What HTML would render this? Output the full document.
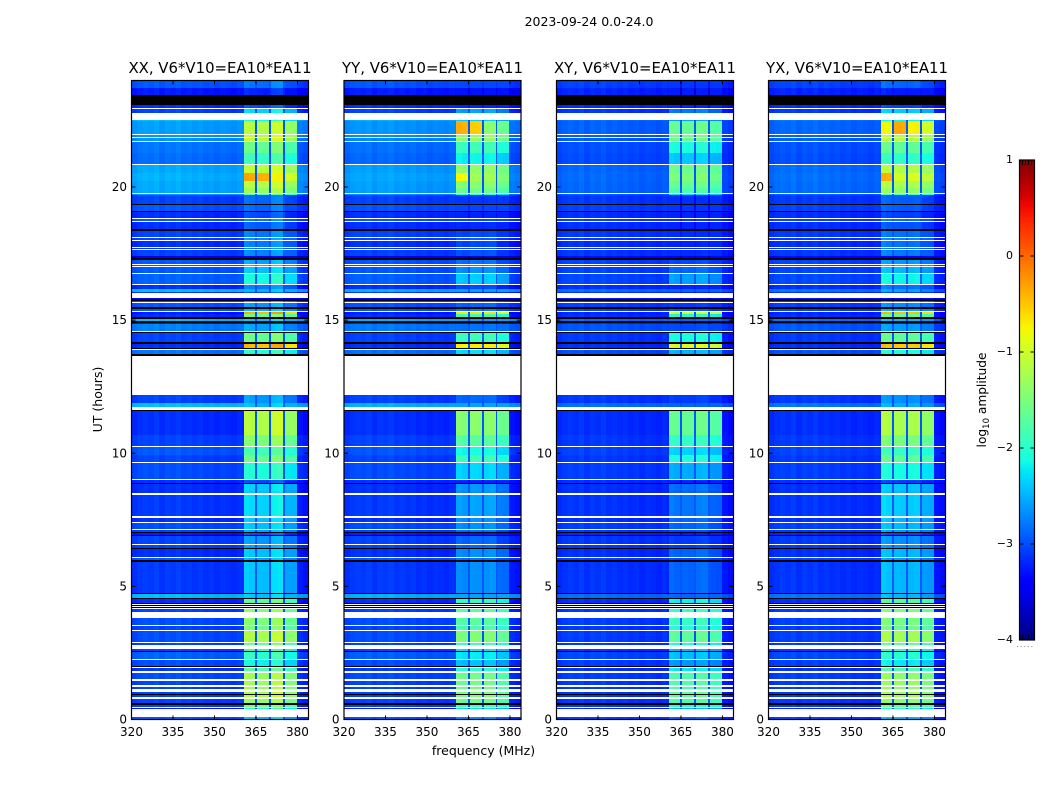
<!DOCTYPE html>
<html lang="en">
<head>
<meta charset="utf-8">
<title>2023-09-24 0.0-24.0</title>
<style>
html,body{margin:0;padding:0;background:#fff;}
svg{display:block;}
text{font-family:"DejaVu Sans","Liberation Sans",sans-serif;fill:#000;}
</style>
</head>
<body>
<svg id="fig" xmlns="http://www.w3.org/2000/svg" width="1050" height="800" viewBox="0 0 1050 800">
  <rect x="0" y="0" width="1050" height="800" fill="#fff"/>
  <text x="589" y="26" font-size="12.5" text-anchor="middle">2023-09-24 0.0-24.0</text>
  <text x="0" y="0" font-size="12.5" text-anchor="middle" transform="translate(102 399.5) rotate(-90)">UT (hours)</text>
  <text x="483.5" y="755" font-size="12.5" text-anchor="middle">frequency (MHz)</text>
  <text x="0" y="0" font-size="12.2" text-anchor="middle" transform="translate(986 400) rotate(-90)">log<tspan font-size="8.5" dy="3">10</tspan><tspan dy="-3"> amplitude</tspan></text>
  <defs><linearGradient id="jet-gradient" x1="0" y1="1" x2="0" y2="0"></linearGradient></defs>
  <g id="panels"></g>
  <g id="colorbar"></g>
</svg>
<script>
// ---- categories and tick labels ----
const panelTitles = ["XX, V6*V10=EA10*EA11", "YY, V6*V10=EA10*EA11", "XY, V6*V10=EA10*EA11", "YX, V6*V10=EA10*EA11"];
const xTickLabels = [320, 335, 350, 365, 380];
const yTickLabels = [0, 5, 10, 15, 20];
const colorbarTicks = [-4, -3, -2, -1, 0, 1];

// ---- frequency bins (MHz) ----
const freqEdges = [320,322,324,326,328,330,332,334,336,338,340,342,344,346,348,350,352,354,356,358,360,
                   360.5,362.5,364.7,365.5,367.5,369.8,370.5,372.5,374.8,375.5,377.5,379.8,382,384];
// 0 = background, 1-4 = signal block, -1 = gap between blocks
const binBlock = [0,0,0,0,0,0,0,0,0,0,0,0,0,0,0,0,0,0,0,0,
                  0,1,1,-1,2,2,-1,3,3,-1,4,4,0,0];
const binShape = [0,.05,.08,.05,.1,.02,.08,.05,.1,.03,.06,.02,.05,0,.03,-.02,.02,0,-.03,.02,
                  -.02,.05,0,0,.02,0,0,0,.03,0,-.08,-.1,-.1,-.15];

// ---- time bands: each runs from its UT down to the next UT ----
// null = no data (white), -9 = zero amplitude (black)
const bandTop = [
  24.00,23.72,23.46,23.09,22.97,22.94,22.79,22.52,22.49,22.00,
  21.96,21.89,21.85,21.74,21.70,21.28,20.87,20.84,20.53,20.23,
  19.97,19.78,19.75,19.71,19.37,19.33,19.11,19.07,18.85,18.81,
  18.73,18.70,18.43,18.36,18.13,18.10,18.02,17.98,17.76,17.72,
  17.68,17.65,17.42,17.35,17.27,17.12,17.08,17.05,17.01,16.78,
  16.75,16.37,16.33,16.18,16.07,16.03,15.84,15.81,15.73,15.69,
  15.66,15.51,15.43,15.36,15.32,15.24,15.13,15.06,14.98,14.91,
  14.87,14.61,14.57,14.53,14.16,14.12,14.04,14.01,13.97,13.93,
  13.89,13.74,13.67,12.17,11.87,11.75,11.64,11.57,10.70,10.67,
  10.29,10.25,9.95,9.92,9.69,9.62,9.05,8.98,8.90,8.83,
  8.60,8.57,8.49,8.42,7.63,7.55,7.40,7.37,7.14,7.10,
  7.03,6.99,6.92,6.88,6.58,6.54,6.43,6.39,6.09,6.05,
  5.98,5.90,4.74,4.70,4.55,4.51,4.36,4.33,4.29,4.25,
  4.21,4.18,4.14,4.03,3.80,3.54,3.50,3.35,3.31,2.90,
  2.86,2.79,2.64,2.56,2.53,2.26,2.22,2.00,1.96,1.92,
  1.81,1.74,1.51,1.44,1.29,1.21,1.14,1.02,.95,.91,
  .84,.76,.61,.54,.46,.42,.39,.09];
const bandBottomUT = 0;
const bandBackground = [
  -3.0,-3.3,-9,-3.2,null,-3.1,null,-2.5,-2.65,null,
  -2.7,null,-2.7,null,-2.85,-2.9,null,-2.6,-2.55,-2.6,
  -2.6,null,-2.7,-3.1,-9,-3.0,-9,-3.2,null,-3.0,
  null,-3.2,-9,-3.1,null,-3.1,null,-3.2,null,-3.2,
  null,-3.1,-3.6,-9,-3.0,null,-3.0,null,-3.0,null,
  -2.95,null,-3.2,-2.5,-3.2,null,-3.4,-9,-3.0,null,
  -3.0,-9,-3.0,null,-3.3,-3.2,-9,-2.5,-9,-3.3,
  -2.8,null,-9,-3.1,-9,-3.2,null,-3.2,-9,null,
  -2.85,-9,null,-3.1,-2.5,null,-9,-3.2,-9,-3.1,
  null,-3.0,null,-3.1,null,-3.05,null,-3.2,-9,-3.2,
  null,-3.2,null,-3.15,null,-3.2,null,-3.05,null,-3.1,
  -9,-3.3,-9,-3.1,null,-3.1,-9,-3.2,null,-3.0,
  -9,-3.15,-9,-2.5,-9,-3.2,-9,null,-9,null,
  -9,null,-3.1,null,-3.05,null,-3.1,null,-3.05,null,
  -3.1,null,-3.1,-9,-2.95,null,-3.05,-9,null,-3.15,
  null,-3.05,null,-3.1,null,-3.1,null,-3.1,-9,-3.1,
  null,-3.1,-9,-3.1,null,-3.3,null,-3.0];
const bandSignal = [
  -2.8,-3.2,-9,-3.0,null,-2.3,null,-2.1,-1.15,null,
  -1.1,null,-1.1,null,-1.6,-1.9,null,-1.1,-1.0,-1.15,
  -1.3,null,-1.8,-2.85,-9,-2.85,-9,-3.0,null,-2.75,
  null,-2.9,-9,-2.75,null,-2.65,null,-2.75,null,-2.75,
  null,-2.7,-3.6,-9,-2.55,null,-2.45,null,-2.4,null,
  -2.1,null,-2.75,-2.5,-3.0,null,-3.4,-9,-2.55,null,
  -2.6,-9,-2.5,null,-0.4,-1.6,-9,-2.4,-9,-3.3,
  -2.55,null,-9,-1.6,-9,-0.45,null,-0.45,-9,null,
  -2.0,-9,null,-2.6,-2.45,null,-9,-1.15,-9,-1.45,
  null,-1.85,null,-1.6,null,-2.05,null,-3.0,-9,-2.35,
  null,-2.4,null,-2.3,null,-2.4,null,-2.4,null,-2.55,
  -9,-3.0,-9,-2.6,null,-2.6,-9,-2.4,null,-2.55,
  -9,-2.4,-9,-2.4,-9,-1.7,-9,null,-9,null,
  -9,null,-1.45,null,-1.45,null,-1.55,null,-1.2,null,
  -1.6,null,-2.0,-9,-1.95,null,-2.15,-9,null,-1.75,
  null,-1.3,null,-1.3,null,-1.3,null,-1.2,-9,-1.2,
  null,-1.35,-9,-1.5,null,-2.0,null,-2.4];

// ---- per-baseline/polarisation scaling, in panel order XX YY XY YX ----
const panelBackgroundGain = [1, .9, .45, .5];
const panelSignalOffset = [0, -.32, -.5, -.08];
const blockOffsetXX = [0, -.05, .12, -.1];
const blockOffsetYY = [0, .05, .05, -.05];
const blockOffsetXY = [0, 0, .05, 0];
const blockOffsetYX = [.05, 0, 0, -.05];
const blockOffsets = [blockOffsetXX, blockOffsetYY, blockOffsetXY, blockOffsetYX];

// ---- hot patches ----
const hotPanel  = [0,0,0,0, 1,1, 1, 3,3,3,3, 3,3,3,3];
const hotTop    = [20.53,20.53,20.53,20.53, 22.49,22.49, 20.53, 22.49,22.49,22.49,22.49, 20.53,20.53,20.53,20.53];
const hotBottom = [20.23,20.23,20.23,20.23, 22.00,22.00, 20.23, 22.00,22.00,22.00,22.00, 20.23,20.23,20.23,20.23];
const hotBlock  = [1,2,3,4, 1,2, 1, 1,2,3,4, 1,2,3,4];
const hotLevel  = [-.35,-.4,-.75,-.9, -.4,-.55, -.8, -.8,-.35,-.75,-.9, -.4,-1,-.95,-1];

// ---- axis ranges ----
const freqRange = [320, 384];
const utRange = [0, 24];
const levelRange = [-4, 1];

const NS = "http://www.w3.org/2000/svg";
const panelLeft = [131.5, 344, 556.5, 768.5];
const panelWidth = 177;
const plotTop = 80.5, plotBottom = 719.5;
const cbarX = 1019.5, cbarW = 15, cbarTop = 160, cbarBottom = 640;

function make(tag, attrs, parent) {
  const el = document.createElementNS(NS, tag);
  for (const k in attrs) el.setAttribute(k, attrs[k]);
  parent.appendChild(el);
  return el;
}
const xScale = (p, f) => panelLeft[p] + (f - freqRange[0]) / (freqRange[1] - freqRange[0]) * panelWidth;
const yScale = u => plotBottom - (u - utRange[0]) / (utRange[1] - utRange[0]) * (plotBottom - plotTop);
const cbarScale = v => cbarBottom - (v - levelRange[0]) / (levelRange[1] - levelRange[0]) * (cbarBottom - cbarTop);

function ramp(t, pts) {
  for (let i = 1; i < pts.length; i++) {
    if (t <= pts[i][0]) {
      const a = pts[i - 1], b = pts[i];
      return a[1] + (b[1] - a[1]) * (t - a[0]) / (b[0] - a[0]);
    }
  }
  return pts[pts.length - 1][1];
}
function jet(t) {
  t = Math.max(0, Math.min(1, t));
  const r = ramp(t, [[0,0],[.35,0],[.66,1],[.89,1],[1,.5]]);
  const g = ramp(t, [[0,0],[.125,0],[.375,1],[.64,1],[.91,0],[1,0]]);
  const b = ramp(t, [[0,.5],[.11,1],[.34,1],[.65,0],[1,0]]);
  return "rgb(" + Math.round(r * 255) + "," + Math.round(g * 255) + "," + Math.round(b * 255) + ")";
}
const levelColor = v => v <= -9 ? "#000" : jet((v - levelRange[0]) / (levelRange[1] - levelRange[0]));

function cellLevel(p, b, i) {
  const bg = bandBackground[b], sig = bandSignal[b];
  if (bg === null) return null;
  if (bg <= -9) return -9;
  const block = binBlock[i];
  const bgOut = -3.2 + (bg + 3.2) * panelBackgroundGain[p];
  if (block === 0) return bgOut + binShape[i];
  if (block === -1) return Math.min(-2.95, sig + panelSignalOffset[p]);
  const mid = (bandTop[b] + (b + 1 < bandTop.length ? bandTop[b + 1] : bandBottomUT)) / 2;
  for (let h = 0; h < hotPanel.length; h++) {
    if (hotPanel[h] === p && hotBlock[h] === block && mid <= hotTop[h] && mid >= hotBottom[h]) return hotLevel[h] + binShape[i];
  }
  return Math.max(bgOut, sig + panelSignalOffset[p] + blockOffsets[p][block - 1] + binShape[i]);
}

const panelsG = document.getElementById("panels");
panelTitles.forEach((title, p) => {
  const g = make("g", {}, panelsG);
  
  

  const cells = make("g", {"shape-rendering": "crispEdges"}, g);
  
  
  for (let b = 0; b < bandTop.length; b++) {
    const y0 = Math.round(yScale(bandTop[b]));
    const y1 = Math.round(yScale(b + 1 < bandTop.length ? bandTop[b + 1] : bandBottomUT));
    for (let i = 0; i < binBlock.length; i++) {
      const v = cellLevel(p, b, i);
      if (v === null) continue;
      const x0 = Math.round(xScale(p, freqEdges[i]));
      const x1 = Math.round(xScale(p, freqEdges[i + 1]));
      const cell = make("rect", {x: x0, y: y0, width: x1 - x0, height: Math.max(1, y1 - y0), fill: levelColor(v)}, cells);
      
      
    }
  }

  const frame = make("rect", {x: panelLeft[p], y: plotTop, width: panelWidth, height: plotBottom - plotTop, fill: "none", stroke: "#000", "stroke-width": 1.2}, g);
  
  

  const head = make("text", {x: panelLeft[p] + panelWidth / 2, y: 73, "font-size": 14.9, "text-anchor": "middle"}, g);
  head.textContent = title;
  
  

  xTickLabels.forEach(f => {
    const x = xScale(p, f);
    const tb = make("line", {x1: x, x2: x, y1: plotBottom, y2: plotBottom - 4, stroke: "#000", "stroke-width": 1}, g);
    
    
    const tt = make("line", {x1: x, x2: x, y1: plotTop, y2: plotTop + 4, stroke: "#000", "stroke-width": 1}, g);
    
    
    const lab = make("text", {x: x, y: 736, "font-size": 12, "text-anchor": "middle"}, g);
    lab.textContent = f;
    
    
  });
  yTickLabels.forEach(u => {
    const y = yScale(u);
    const tl = make("line", {x1: panelLeft[p], x2: panelLeft[p] + 4, y1: y, y2: y, stroke: "#000", "stroke-width": 1}, g);
    
    
    const tr = make("line", {x1: panelLeft[p] + panelWidth, x2: panelLeft[p] + panelWidth - 4, y1: y, y2: y, stroke: "#000", "stroke-width": 1}, g);
    
    
    const lab = make("text", {x: panelLeft[p] - 4.5, y: y + 4, "font-size": 12, "text-anchor": "end"}, g);
    lab.textContent = u;
    
    
  });
});

// ---- colorbar ----
const grad = document.getElementById("jet-gradient");
for (let s = 0; s <= 40; s++) {
  make("stop", {offset: s / 40, "stop-color": jet(s / 40)}, grad);
}
const cb = document.getElementById("colorbar");
const cbBody = make("rect", {x: cbarX, y: cbarTop, width: cbarW, height: cbarBottom - cbarTop, fill: "url(#jet-gradient)", stroke: "#000", "stroke-width": 1.2}, cb);


colorbarTicks.forEach(v => {
  const y = cbarScale(v);
  const a = make("line", {x1: cbarX, x2: cbarX + 4, y1: y, y2: y, stroke: "#000", "stroke-width": 1}, cb);
  
  
  const c = make("line", {x1: cbarX + cbarW, x2: cbarX + cbarW - 4, y1: y, y2: y, stroke: "#000", "stroke-width": 1}, cb);
  
  
  const lab = make("text", {x: 1013, y: y + 3, "font-size": 11, "text-anchor": "end"}, cb);
  lab.textContent = v < 0 ? "\u2212" + Math.abs(v) : String(v);
  
  
});
const minorXs = [3, 6, 9, 12];
minorXs.forEach(dx => {
  const t = make("line", {x1: cbarX + dx, x2: cbarX + dx, y1: cbarTop, y2: cbarTop + 5, stroke: "#000", "stroke-width": 1}, cb);
  
  
  const u = make("line", {x1: cbarX + dx, x2: cbarX + dx, y1: cbarBottom, y2: cbarBottom - 5, stroke: "#000", "stroke-width": 1}, cb);
  
  
});
const dots = make("line", {x1: 1017, x2: 1035, y1: 646.5, y2: 646.5, stroke: "#888", "stroke-width": 1, "stroke-dasharray": "1 2.6"}, cb);


</script>
</body>
</html>
